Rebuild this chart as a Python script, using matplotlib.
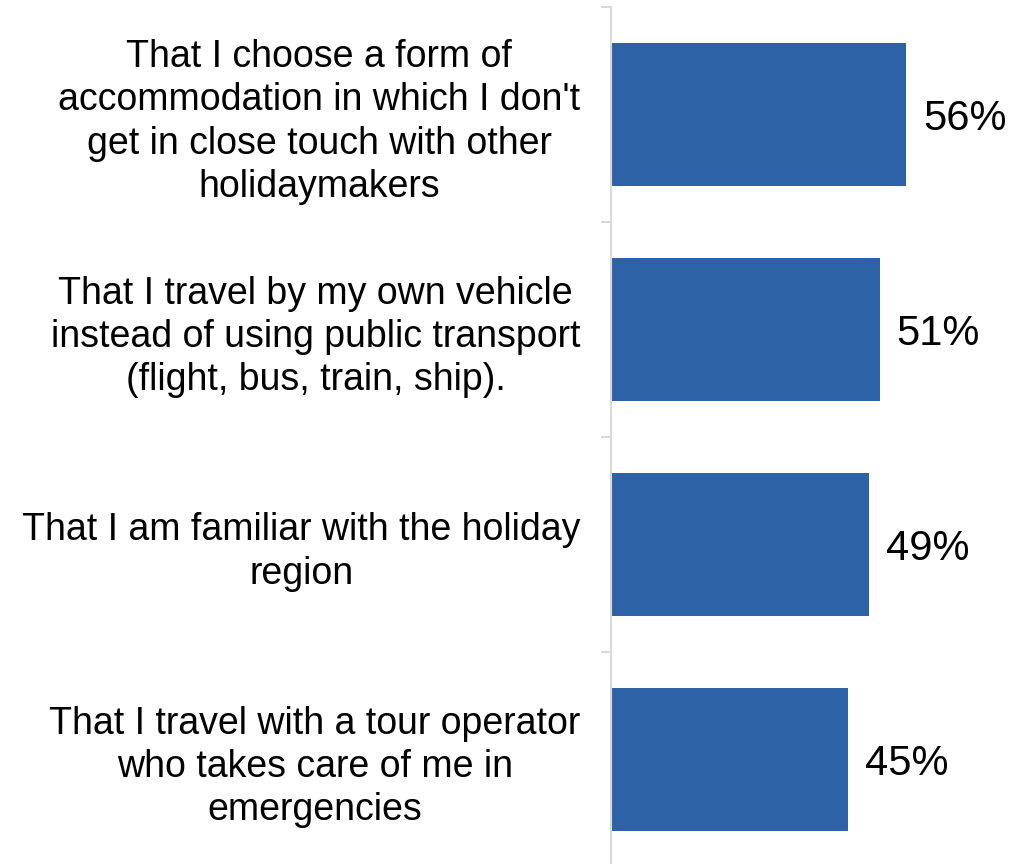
import numpy as np
import matplotlib.pyplot as plt

plt.rcParams['font.family'] = ['Liberation Sans', 'DejaVu Sans']

# survey answers, top to bottom
labels = [
    "That I choose a form of\naccommodation in which I don't\nget in close touch with other\nholidaymakers",
    "That I travel by my own vehicle\ninstead of using public transport\n(flight, bus, train, ship).",
    "That I am familiar with the holiday\nregion",
    "That I travel with a tour operator\nwho takes care of me in\nemergencies",
]
shares = [56, 51, 49, 45]

bar_color = '#2E62A7'
axis_gray = '#d9d9d9'

fig = plt.figure(figsize=(10.30, 8.64), dpi=100)
# axes box in figure fractions: left spine at x=611px, top at 7px
ax = fig.add_axes([611 / 1030, -3 / 864, 1 - 611 / 1030, (864 - 7 + 3) / 864])

y = np.arange(len(shares))
ax.barh(y, shares, height=0.665, color=bar_color)

for yi, v in zip(y, shares):
    ax.annotate(f"{v}%", xy=(v, yi), xytext=(17 * 0.72, -3), textcoords='offset points',
                ha='left', va='center', fontsize=30, color='black')

ax.set_xlim(0, (1030 - 611) / 5.27)
ax.set_ylim(len(shares) - 0.5, -0.5)

for s in ['top', 'right', 'bottom']:
    ax.spines[s].set_visible(False)
ax.spines['left'].set_color(axis_gray)
ax.spines['left'].set_linewidth(1.5)

ax.set_xticks([])
ax.set_yticks(y)
ax.set_yticklabels(labels, fontsize=27, multialignment='center', linespacing=1.26)
ax.tick_params(axis='y', which='major', length=0, pad=22)
ax.set_yticks(np.arange(len(shares) + 1) - 0.5, minor=True)
ax.tick_params(axis='y', which='minor', length=7.5, width=1.5, color=axis_gray)

fig.savefig('out.png', dpi=100)
